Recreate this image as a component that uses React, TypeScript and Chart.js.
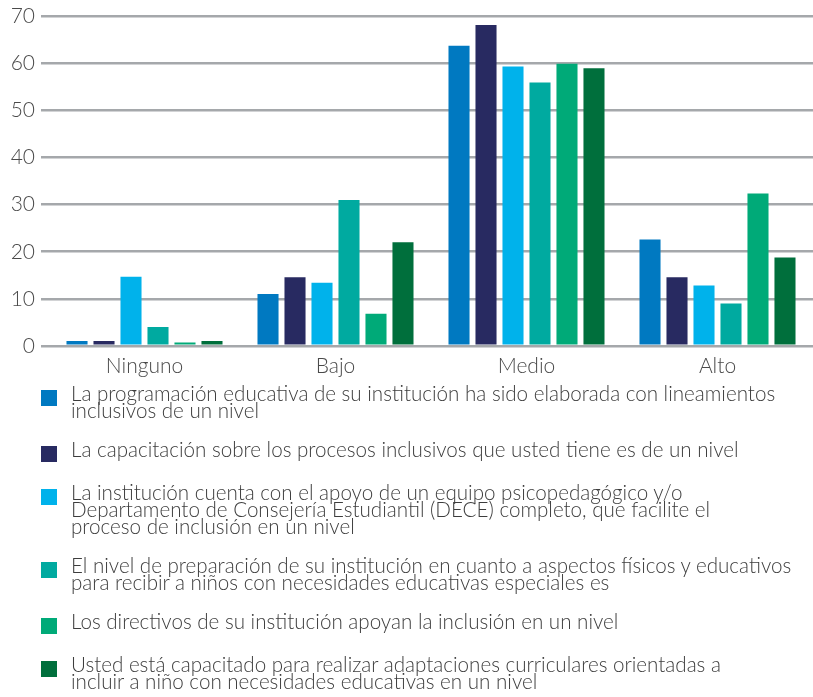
import React, { useEffect, useRef } from "react";
import { Chart, registerables } from "chart.js";

Chart.register(...registerables);

const categories = ["Ninguno", "Bajo", "Medio", "Alto"];

const seriesLabels: string[][] = [
  ["La programación educativa de su institución ha sido elaborada con lineamientos", "inclusivos de un nivel"],
  ["La capacitación sobre los procesos inclusivos que usted tiene es de un nivel"],
  ["La institución cuenta con el apoyo de un equipo psicopedagógico y/o", "Departamento de Consejería Estudiantil (DECE) completo, que facilite el", "proceso de inclusión en un nivel"],
  ["El nivel de preparación de su institución en cuanto a aspectos físicos y educativos", "para recibir a niños con necesidades educativas especiales es"],
  ["Los directivos de su institución apoyan la inclusión en un nivel"],
  ["Usted está capacitado para realizar adaptaciones curriculares orientadas a", "incluir a niño con necesidades educativas en un nivel"],
];

const programacion = [1, 11, 63.8, 22.6];
const capacitacion = [1, 14.6, 68.2, 14.6];
const institucionApoyo = [14.7, 13.4, 59.4, 12.8];
const preparacion = [4, 31, 56, 9];
const directivos = [0.7, 6.8, 60, 32.4];
const adaptaciones = [1, 22, 59, 18.8];

const seriesValues = [programacion, capacitacion, institucionApoyo, preparacion, directivos, adaptaciones];
const seriesColors = ["#0079C1", "#282A61", "#00B2EB", "#00AAA0", "#00AA78", "#006F3C"];

const yTicks = [0, 10, 20, 30, 40, 50, 60, 70];

const FONT = "Lato, 'Open Sans', sans-serif";

export default function App() {
  const canvasRef = useRef<HTMLCanvasElement | null>(null);

  useEffect(() => {
    document.body.style.margin = "0";
    const ctx = canvasRef.current;
    if (!ctx) return;
    const chart = new Chart(ctx, {
      type: "bar",
      data: {
        labels: categories,
        datasets: seriesValues.map((vals, i) => ({
          label: seriesLabels[i].join(" "),
          data: vals,
          backgroundColor: seriesColors[i],
          borderWidth: 0,
          barPercentage: 0.78,
          categoryPercentage: 0.848,
        })),
      },
      options: {
        responsive: true,
        maintainAspectRatio: false,
        animation: false,
        layout: { padding: { top: 14, right: 0, left: 0, bottom: 0 } },
        plugins: {
          legend: { display: false },
          tooltip: { enabled: false },
        },
        scales: {
          x: {
            grid: { display: false, drawTicks: false },
            border: { display: false },
            ticks: {
              color: "#4a4a4a",
              padding: 8,
              font: { family: FONT, size: 21, weight: "300" as any },
            },
          },
          y: {
            min: 0,
            max: 70,
            afterBuildTicks: (scale: any) => {
              scale.ticks = yTicks.map((v) => ({ value: v }));
            },
            afterFit: (scale: any) => {
              scale.width = 49;
            },
            grid: {
              color: "#A5A8AB",
              lineWidth: 2.5,
              drawTicks: true,
              tickLength: 8,
            },
            border: { display: false },
            ticks: {
              color: "#4a4a4a",
              padding: 6,
              font: { family: FONT, size: 21, weight: "300" as any },
            },
          },
        },
      },
    });
    return () => chart.destroy();
  }, []);

  return (
    <div style={{ position: "absolute", left: 0, top: 0, width: 813, height: 697, background: "#fff", overflow: "hidden" }}>
      <div style={{ position: "absolute", left: 0, top: -2, width: 813, height: 389 }}>
        <canvas ref={canvasRef} />
      </div>
      <div
        style={{
          position: "absolute",
          left: 41,
          top: 385,
          fontFamily: FONT,
          fontWeight: 300,
          fontSize: 20.6,
          lineHeight: "17px",
          color: "#3d3d3d",
        }}
      >
        {seriesLabels.map((lines, i) => (
          <div key={i} style={{ display: "flex", alignItems: "flex-start", marginBottom: 22 }}>
            <div style={{ width: 16, height: 16, background: seriesColors[i], marginTop: 5, flex: "0 0 16px" }} />
            <div style={{ marginLeft: 14, whiteSpace: "nowrap" }}>
              {lines.map((l, j) => (
                <div key={j}>{l}</div>
              ))}
            </div>
          </div>
        ))}
      </div>
    </div>
  );
}
